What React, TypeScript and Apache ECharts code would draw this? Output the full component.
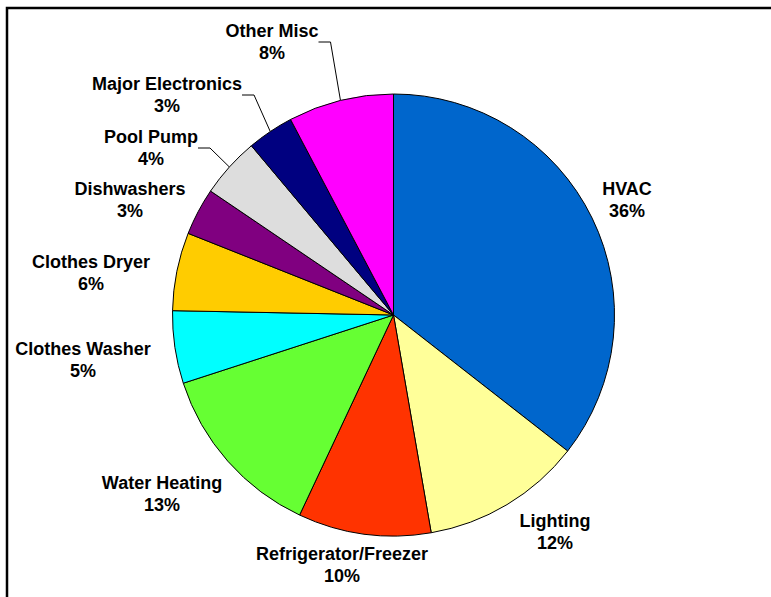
import React, { useEffect, useRef } from "react";
import * as echarts from "echarts";

const categories = [
  "HVAC",
  "Lighting",
  "Refrigerator/Freezer",
  "Water Heating",
  "Clothes Washer",
  "Clothes Dryer",
  "Dishwashers",
  "Pool Pump",
  "Major Electronics",
  "Other Misc",
];
const shares = [35.5, 11.7, 9.7, 13.0, 5.3, 5.7, 3.45, 4.4, 3.4, 7.7];
const colors = [
  "#0066CC",
  "#FFFF99",
  "#FF3300",
  "#66FF33",
  "#00FFFF",
  "#FFCC00",
  "#800080",
  "#DDDDDD",
  "#000080",
  "#FF00FF",
];
const withLeader = [false, false, false, false, false, false, false, true, true, true];

// label block centres (layout)
const labelCentres: [number, number][] = [
  [627, 200],
  [555, 532],
  [342, 565],
  [162, 494],
  [83, 360],
  [91, 273],
  [130, 200],
  [151, 148],
  [167, 95],
  [272, 42],
];

export default function App() {
  const ref = useRef<HTMLDivElement>(null);
  useEffect(() => {
    document.body.style.margin = "0";
    if (!ref.current) return;
    const chart = echarts.init(ref.current, undefined, { renderer: "svg" });
    const total = shares.reduce((a, b) => a + b, 0);
    chart.setOption({
      animation: false,
      backgroundColor: "#ffffff",
      graphic: [
        {
          type: "rect",
          silent: true,
          z: -10,
          shape: { x: 7, y: 8, width: 820, height: 700 },
          style: { fill: "none", stroke: "#000", lineWidth: 2.5 },
        },
      ],
      series: [
        {
          type: "pie",
          center: [393.5, 315],
          radius: 221,
          startAngle: 90,
          clockwise: true,
          avoidLabelOverlap: false,
          emphasis: { disabled: true },
          itemStyle: { borderColor: "#000", borderWidth: 1 },
          label: {
            show: true,
            position: "outside",
            formatter: (p: any) =>
              `${p.name}\n${Math.round((p.value / total) * 100)}%`,
            fontFamily: "Arial, 'Liberation Sans', sans-serif",
            fontWeight: "bold",
            fontSize: 18,
            lineHeight: 22,
            color: "#000",
            align: "center",
          },
          labelLine: {
            show: true,
            length: 12,
            length2: 12,
            smooth: false,
            lineStyle: { color: "#000", width: 1 },
          },
          labelLayout: (params: any) => {
            const c = labelCentres[params.dataIndex];
            return {
              x: c[0],
              y: c[1],
              align: "center",
              verticalAlign: "middle",
            };
          },
          data: categories.map((name, i) => ({
            name,
            value: shares[i],
            itemStyle: { color: colors[i] },
            labelLine: { show: withLeader[i] },
          })),
        },
      ],
    });
    return () => chart.dispose();
  }, []);
  return <div ref={ref} style={{ width: 771, height: 597 }} />;
}
